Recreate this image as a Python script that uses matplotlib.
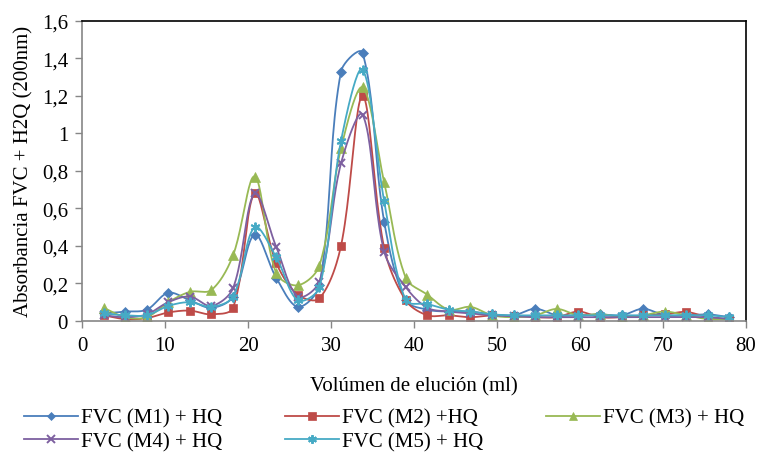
import numpy as np
import matplotlib
matplotlib.use("Agg")
import matplotlib.pyplot as plt
from matplotlib.ticker import FuncFormatter

# ── Data ──────────────────────────────────────────────────────────────────────

volume = [2.6, 5.2, 7.8, 10.4, 13.0, 15.6, 18.2, 20.8, 23.4, 26.0,
          28.6, 31.2, 33.8, 36.4, 39.0, 41.6, 44.2, 46.8, 49.4, 52.0,
          54.6, 57.2, 59.8, 62.4, 65.0, 67.6, 70.2, 72.8, 75.4, 78.0]

m1 = [0.04, 0.05, 0.06, 0.15, 0.11, 0.07, 0.13, 0.46, 0.23, 0.075,
      0.19, 1.33, 1.43, 0.53, 0.11, 0.06, 0.05, 0.05, 0.035, 0.03,
      0.065, 0.03, 0.03, 0.035, 0.03, 0.065, 0.03, 0.03, 0.035, 0.02]
m2 = [0.03, 0.01, 0.015, 0.045, 0.055, 0.035, 0.07, 0.68, 0.31, 0.14,
      0.12, 0.40, 1.20, 0.39, 0.11, 0.03, 0.03, 0.02, 0.03, 0.025,
      0.02, 0.02, 0.05, 0.02, 0.02, 0.03, 0.035, 0.048, 0.02, 0.01]
m3 = [0.07, 0.02, 0.02, 0.10, 0.155, 0.165, 0.35, 0.77, 0.255, 0.19,
      0.295, 0.92, 1.245, 0.74, 0.23, 0.14, 0.06, 0.075, 0.03, 0.02,
      0.03, 0.064, 0.03, 0.037, 0.02, 0.03, 0.05, 0.03, 0.01, 0.01]
m4 = [0.03, 0.02, 0.035, 0.10, 0.13, 0.08, 0.175, 0.68, 0.395, 0.13,
      0.21, 0.84, 1.10, 0.37, 0.18, 0.07, 0.05, 0.04, 0.03, 0.025,
      0.02, 0.02, 0.02, 0.02, 0.02, 0.02, 0.02, 0.02, 0.02, 0.01]
m5 = [0.04, 0.03, 0.03, 0.08, 0.10, 0.075, 0.13, 0.50, 0.34, 0.11,
      0.18, 0.96, 1.34, 0.64, 0.11, 0.09, 0.06, 0.05, 0.035, 0.03,
      0.03, 0.03, 0.03, 0.03, 0.03, 0.03, 0.03, 0.03, 0.03, 0.02]

labels = ["FVC (M1) + HQ", "FVC (M2) +HQ", "FVC (M3) + HQ",
          "FVC (M4) + HQ", "FVC (M5) + HQ"]
colors = ["#4A7EBB", "#BE4B48", "#98B954", "#7D60A0", "#46AAC5"]
markers = ["D", "s", "^", "x", (6, 2, 0)]
msizes = [5, 6, 6.5, 6, 7]

# screen scale (px per data unit) used to weight the smoothing like Excel does
SX, SY = 8.33, 187.5


# Excel-like smoothed line: bezier segments, tangents weighted by segment length
def smooth(x, y, n=24):
    p = np.column_stack([np.asarray(x, float) * SX, np.asarray(y, float) * SY])
    p = np.vstack([p[0], p, p[-1]])
    t = np.linspace(0, 1, n)[:, None]
    out = []
    for i in range(1, len(p) - 2):
        a, b = p[i], p[i + 1]
        d_prev = np.linalg.norm(p[i] - p[i - 1])
        d_mid = np.linalg.norm(b - a)
        d_next = np.linalg.norm(p[i + 2] - b)
        k1 = d_mid / (d_prev + d_mid) / 3 if d_prev + d_mid > 0 else 0
        k2 = d_mid / (d_mid + d_next) / 3 if d_mid + d_next > 0 else 0
        c1 = a + (b - p[i - 1]) * k1
        c2 = b - (p[i + 2] - a) * k2
        seg = (1 - t) ** 3 * a + 3 * (1 - t) ** 2 * t * c1 + 3 * (1 - t) * t ** 2 * c2 + t ** 3 * b
        out.append(seg)
    out = np.vstack(out)
    return out[:, 0] / SX, out[:, 1] / SY


# ── Plot ──────────────────────────────────────────────────────────────────────

plt.rcParams["font.family"] = ["Liberation Serif", "DejaVu Serif"]
plt.rcParams["font.size"] = 15

fig = plt.figure(figsize=(7.59, 4.56), dpi=100)
ax = fig.add_axes([0.108, 0.294, 0.875, 0.658])

handles = []
for ys, lab, col, mk, ms in zip([m1, m2, m3, m4, m5], labels, colors, markers, msizes):
    mew = 1.4 if mk in ("x", (6, 2, 0)) else 0.5
    sx, sy = smooth(volume, ys)
    ax.plot(sx, sy, color=col, lw=1.3)
    ax.plot(volume, ys, linestyle="none", marker=mk, color=col,
            markersize=ms, markeredgewidth=mew)
    # legend proxy
    h, = ax.plot([], [], color=col, lw=1.3, marker=mk, markersize=ms * 0.9,
                 markeredgewidth=mew, label=lab)
    handles.append(h)

ax.set_xlim(0, 80)
ax.set_ylim(0, 1.6)
ax.set_xticks(np.arange(0, 81, 10))
ax.set_yticks(np.arange(0, 1.61, 0.2))
ax.yaxis.set_major_formatter(FuncFormatter(
    lambda v, p: "0" if abs(v) < 1e-9 else ("1" if abs(v - 1) < 1e-9 else f"{v:.1f}".replace(".", ","))))

for side in ("left", "bottom"):
    ax.spines[side].set_color("#868686")
    ax.spines[side].set_linewidth(1.2)
for side in ("top", "right"):
    ax.spines[side].set_color("black")
    ax.spines[side].set_linewidth(1.2)
ax.tick_params(axis="both", direction="out", length=5, width=1, color="#868686",
               labelsize=15, pad=4)
ax.tick_params(axis="x", pad=6)
ax.tick_params(axis="y", pad=5)

ax.set_xlabel("Volúmen de elución (ml)", fontsize=15, labelpad=15)
ax.set_ylabel("Absorbancia FVC + H2Q (200nm)", fontsize=15, labelpad=6)

# row-wise legend order (matplotlib fills columns first)
order = [0, 3, 1, 4, 2]
fig.legend([handles[i] for i in order], [labels[i] for i in order],
           loc="lower left", bbox_to_anchor=(0.015, -0.02), ncol=3, frameon=False,
           fontsize=15, handlelength=2.6, handletextpad=0.15, columnspacing=3.0,
           labelspacing=0.2, borderaxespad=0.2)

fig.savefig("out.png", dpi=100)
plt.close()
